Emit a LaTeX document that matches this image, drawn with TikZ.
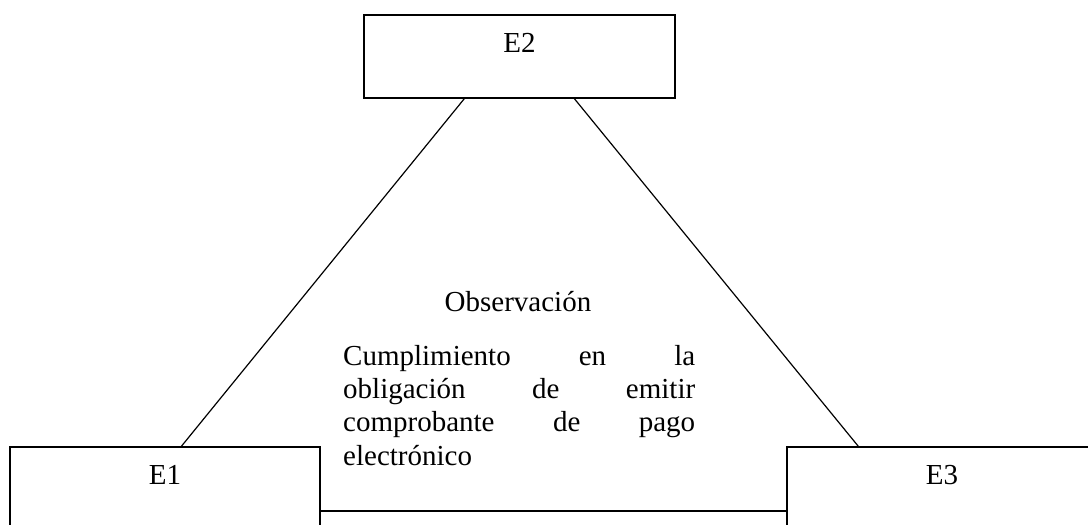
\documentclass[tikz,border=0pt]{standalone}
\usepackage{fontspec}
\setmainfont{Liberation Serif}
\usetikzlibrary{calc}
\tikzset{
  ebox/.style={draw=black, line width=1.3pt, rectangle, inner sep=0pt, minimum width=310pt},
  elabel/.style={anchor=base, font=\fontsize{29}{33.3}\selectfont, inner sep=0pt},
  link/.style={draw=black, line width=1.2pt}
}
\begin{document}
\begin{tikzpicture}[x=1pt, y=-1pt]
\useasboundingbox (0,0) rectangle (1088,525);
\clip (0,0) rectangle (1088,525);
\node[ebox, minimum width=311pt, minimum height=83pt,
      label={[elabel, yshift=-38pt]north:E2}] (E2) at (519.5,56.5) {};
\node[ebox, minimum height=128pt,
      label={[elabel, yshift=-38pt]north:E1}] (E1) at (165,511) {};
\node[ebox, minimum height=128pt,
      label={[elabel, yshift=-38pt]north:E3}] (E3) at (942,511) {};
\draw[link] ([xshift=101pt]E2.south west) -- ([xshift=172pt]E1.north west);
\draw[link] ([xshift=211pt]E2.south west) -- ([xshift=72pt]E3.north west);
\draw[link] (E1.east) -- (E3.west);
\node[elabel] (obs) at (518,311) {Observación};
\node[anchor=base west, inner sep=0pt, align=left,
      font=\fontsize{29}{33.3}\selectfont] (txt) at (343,465)
  {\makebox[352pt][l]{Cumplimiento\hfill en\hfill la}\\
   \makebox[352pt][l]{obligación\hfill de\hfill emitir}\\
   \makebox[352pt][l]{comprobante\hfill de\hfill pago}\\
   electrónico};
\end{tikzpicture}
\end{document}
